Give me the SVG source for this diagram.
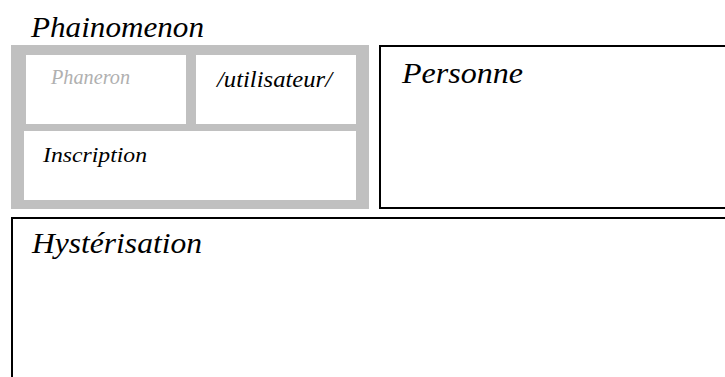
<svg xmlns="http://www.w3.org/2000/svg" width="725" height="377" viewBox="0 0 725 377">
<style>
.t{font-family:'Liberation Serif','Times New Roman',serif;font-style:italic;fill:#000}
.big{font-size:30px}
.box{fill:#fff;stroke:#000;stroke-width:2}
.inner{fill:#fff}
</style>
<rect width="725" height="377" fill="#fff"/>
<g id="phainomenon">
<text class="t big" x="31" y="37" textLength="173" lengthAdjust="spacingAndGlyphs">Phainomenon</text>
<rect x="11" y="45" width="358" height="164" fill="#c0c0c0"/>
</g>
<g id="phaneron">
<rect class="inner" x="26" y="55" width="160" height="69"/>
<text class="t" x="51" y="84" font-size="20" style="fill:#b0b0b0" textLength="79" lengthAdjust="spacingAndGlyphs">Phaneron</text>
</g>
<g id="utilisateur">
<rect class="inner" x="196" y="55" width="160" height="69"/>
<text class="t" x="217" y="87" font-size="23" textLength="115" lengthAdjust="spacingAndGlyphs">/utilisateur/</text>
</g>
<g id="inscription">
<rect class="inner" x="24" y="131" width="332" height="69"/>
<text class="t" x="43" y="162" font-size="22" textLength="104" lengthAdjust="spacingAndGlyphs">Inscription</text>
</g>
<g id="personne">
<rect class="box" x="380" y="46" width="360" height="162"/>
<text class="t big" x="402" y="83" textLength="121" lengthAdjust="spacingAndGlyphs">Personne</text>
</g>
<g id="hysterisation">
<rect class="box" x="12" y="218" width="730" height="180"/>
<text class="t big" x="32" y="253" textLength="170" lengthAdjust="spacingAndGlyphs">Hystérisation</text>
</g>
<g id="connectors"></g>
</svg>
